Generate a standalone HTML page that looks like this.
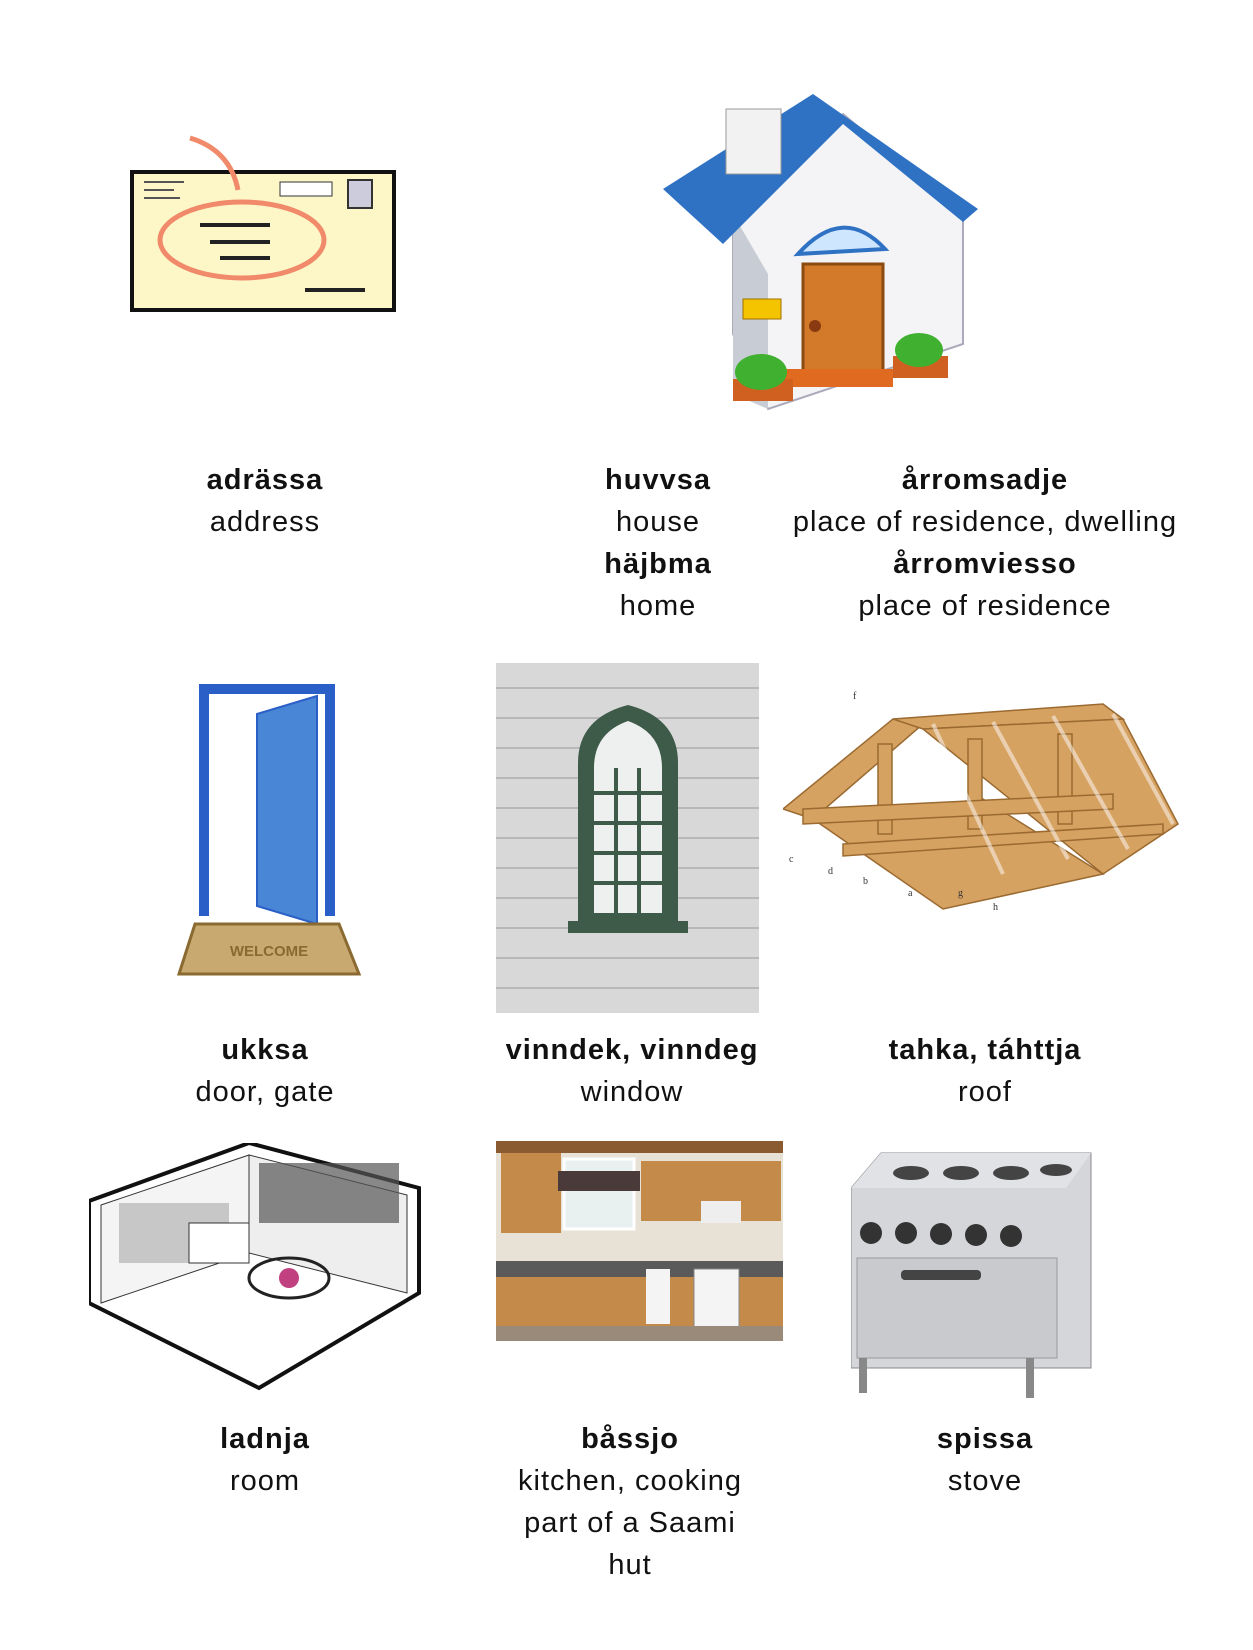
<!DOCTYPE html>
<html><head><meta charset="utf-8"><style>
html,body{margin:0;padding:0;background:#fff}
body{width:1253px;height:1650px;position:relative;overflow:hidden;font-family:"Liberation Sans",sans-serif;color:#111}
.t{position:absolute;transform:translateX(-50%);text-align:center;font-size:29px;letter-spacing:1px;line-height:42px;white-space:nowrap}
.t b{font-weight:bold}
svg{position:absolute}
</style></head><body>

<!-- envelope -->
<svg style="left:120px;top:130px" width="290" height="190" viewBox="0 0 290 190">
<rect x="12" y="42" width="262" height="138" fill="#fdf7c8" stroke="#111" stroke-width="4"/>
<ellipse cx="122" cy="110" rx="82" ry="38" fill="none" stroke="#f08a6a" stroke-width="5"/>
<path d="M70 8 Q110 20 118 60" fill="none" stroke="#f08a6a" stroke-width="5"/>
<rect x="160" y="52" width="52" height="14" fill="#fff" stroke="#333"/>
<rect x="228" y="50" width="24" height="28" fill="#ccd" stroke="#333" stroke-width="2"/>
<path d="M80 95 h70 M90 112 h60 M100 128 h50 M185 160 h60" stroke="#222" stroke-width="4"/>
<path d="M24 52 h40 M24 60 h30 M24 68 h36" stroke="#555" stroke-width="2"/>
</svg>

<!-- house -->
<svg style="left:663px;top:94px" width="345" height="335" viewBox="0 0 345 335">
<polygon points="70,115 180,20 300,120 300,250 105,315 70,240" fill="#f4f4f6" stroke="#aab" stroke-width="2"/>
<polygon points="70,300 105,315 105,180 70,120" fill="#c8ccd4"/>
<polygon points="0,95 150,0 315,115 300,128 180,30 60,150" fill="#2f72c4"/>
<rect x="63" y="15" width="55" height="65" fill="#f2f2f2" stroke="#999"/>
<path d="M135 160 Q180 110 222 155 Z" fill="#cfe6ff" stroke="#2f72c4" stroke-width="4"/>
<rect x="140" y="170" width="80" height="115" fill="#d27a2a" stroke="#8a4a10" stroke-width="3"/>
<circle cx="152" cy="232" r="6" fill="#8a3a10"/>
<rect x="120" y="275" width="110" height="18" fill="#e06a20"/>
<rect x="80" y="205" width="38" height="20" fill="#f5c400" stroke="#a07000"/>
<rect x="70" y="285" width="60" height="22" fill="#d06020"/>
<ellipse cx="98" cy="278" rx="26" ry="18" fill="#40b030"/>
<rect x="230" y="262" width="55" height="22" fill="#d06020"/>
<ellipse cx="256" cy="256" rx="24" ry="17" fill="#40b030"/>
</svg>

<!-- door -->
<svg style="left:177px;top:684px" width="185" height="295" viewBox="0 0 185 295">
<rect x="22" y="0" width="136" height="10" fill="#2a5fc8"/>
<rect x="22" y="0" width="10" height="232" fill="#2a5fc8"/>
<rect x="148" y="0" width="10" height="232" fill="#2a5fc8"/>
<polygon points="80,30 140,12 140,240 80,222" fill="#4a86d6" stroke="#2a5fc8" stroke-width="2"/>
<polygon points="18,240 162,240 182,290 2,290" fill="#c8aa70" stroke="#8a6a30" stroke-width="3"/>
<text x="92" y="272" font-family="Liberation Sans" font-weight="bold" font-size="15" fill="#8a6a30" text-anchor="middle">WELCOME</text>
</svg>

<!-- window photo -->
<svg style="left:496px;top:663px" width="263" height="350" viewBox="0 0 263 350">
<rect width="263" height="350" fill="#d8d8d8"/>
<g stroke="#b8b8b8" stroke-width="2">
<path d="M0 25h263M0 55h263M0 85h263M0 115h263M0 145h263M0 175h263M0 205h263M0 235h263M0 265h263M0 295h263M0 325h263"/></g>
<path d="M82 260 V100 Q82 55 132 42 Q182 55 182 100 V260 Z" fill="#3e5a48"/>
<path d="M98 250 V105 Q98 70 132 58 Q166 70 166 105 V250 Z" fill="#eef0f0"/>
<g stroke="#3e5a48" stroke-width="4"><path d="M98 130h68M98 160h68M98 190h68M98 220h68M120 105v145M143 105v145"/></g>
<rect x="72" y="258" width="120" height="12" fill="#3e5a48"/>
</svg>

<!-- roof -->
<svg style="left:783px;top:684px" width="400" height="270" viewBox="0 0 400 270">
<g fill="#d6a262" stroke="#9a6a30" stroke-width="1.5">
<polygon points="0,125 110,35 140,40 30,135"/>
<polygon points="110,35 320,20 340,35 140,45"/>
<polygon points="30,135 160,225 320,190 200,115"/>
<polygon points="140,45 340,35 395,140 320,190"/>
<rect x="95" y="60" width="14" height="90"/><rect x="185" y="55" width="14" height="90"/><rect x="275" y="50" width="14" height="90"/>
<polygon points="20,125 330,110 330,125 20,140"/>
<polygon points="60,160 380,140 380,150 60,172"/>
</g>
<g stroke="#fff" stroke-width="4" opacity=".5"><path d="M150 40 L220 190 M210 38 L285 175 M270 32 L345 165 M330 30 L390 140"/></g>
<g font-family="Liberation Serif" font-size="10" fill="#333"><text x="70" y="15">f</text><text x="34" y="-2">e</text><text x="6" y="178">c</text><text x="45" y="190">d</text><text x="80" y="200">b</text><text x="125" y="212">a</text><text x="175" y="212">g</text><text x="210" y="226">h</text></g>
</svg>

<!-- room -->
<svg style="left:89px;top:1143px" width="350" height="248" viewBox="0 0 350 248">
<polygon points="0,58 160,0 330,45 330,150 170,245 0,160" fill="#fff" stroke="#111" stroke-width="4"/>
<polygon points="12,62 160,12 160,110 12,160" fill="#f4f4f4" stroke="#333"/>
<polygon points="160,12 318,52 318,150 160,110" fill="#eee" stroke="#333"/>
<rect x="170" y="20" width="140" height="60" fill="#555" opacity=".7"/>
<rect x="30" y="60" width="110" height="60" fill="#999" opacity=".5"/>
<ellipse cx="200" cy="135" rx="40" ry="20" fill="none" stroke="#222" stroke-width="3"/>
<circle cx="200" cy="135" r="10" fill="#c04080"/>
<rect x="100" y="80" width="60" height="40" fill="#fff" stroke="#333"/>
</svg>

<!-- kitchen -->
<svg style="left:496px;top:1141px" width="287" height="200" viewBox="0 0 287 200">
<rect width="287" height="200" fill="#e8e2d6"/>
<rect x="0" y="0" width="287" height="12" fill="#8a5a30"/>
<rect x="5" y="12" width="60" height="80" fill="#c48a4a"/>
<rect x="68" y="18" width="70" height="70" fill="#e8f0f0" stroke="#fff" stroke-width="3"/>
<rect x="62" y="30" width="82" height="20" fill="#4a3a3a"/>
<rect x="145" y="20" width="140" height="60" fill="#c48a4a"/>
<rect x="205" y="60" width="40" height="22" fill="#eee"/>
<rect x="0" y="120" width="287" height="16" fill="#5a5a5a"/>
<rect x="0" y="136" width="287" height="64" fill="#c48a4a"/>
<rect x="150" y="128" width="24" height="55" fill="#f4f4f4"/>
<rect x="198" y="128" width="45" height="60" fill="#f4f4f4" stroke="#888"/>
<rect x="0" y="185" width="287" height="15" fill="#9a8a7a"/>
</svg>

<!-- stove -->
<svg style="left:851px;top:1148px" width="248" height="255" viewBox="0 0 248 255">
<polygon points="0,40 30,5 240,5 240,220 0,220" fill="#d4d6da" stroke="#888"/>
<polygon points="0,40 30,5 240,5 215,40" fill="#e0e2e6"/>
<g fill="#444"><ellipse cx="60" cy="25" rx="18" ry="7"/><ellipse cx="110" cy="25" rx="18" ry="7"/><ellipse cx="160" cy="25" rx="18" ry="7"/><ellipse cx="205" cy="22" rx="16" ry="6"/></g>
<g fill="#333"><circle cx="20" cy="85" r="11"/><circle cx="55" cy="85" r="11"/><circle cx="90" cy="86" r="11"/><circle cx="125" cy="87" r="11"/><circle cx="160" cy="88" r="11"/></g>
<rect x="6" y="110" width="200" height="100" fill="#c8cace" stroke="#999"/>
<rect x="50" y="122" width="80" height="10" rx="4" fill="#444"/>
<rect x="8" y="210" width="8" height="35" fill="#888"/><rect x="175" y="210" width="8" height="40" fill="#888"/>
</svg>

<div class="t" style="left:265px;top:459px"><b>adrässa</b><br>address</div>
<div class="t" style="left:658px;top:459px"><b>huvvsa</b><br>house<br><b>häjbma</b><br>home</div>
<div class="t" style="left:985px;top:459px"><b>årromsadje</b><br>place of residence, dwelling<br><b>årromviesso</b><br>place of residence</div>

<div class="t" style="left:265px;top:1029px"><b>ukksa</b><br>door, gate</div>
<div class="t" style="left:632px;top:1029px"><b>vinndek, vinndeg</b><br>window</div>
<div class="t" style="left:985px;top:1029px"><b>tahka, táhttja</b><br>roof</div>

<div class="t" style="left:265px;top:1418px"><b>ladnja</b><br>room</div>
<div class="t" style="left:630px;top:1418px"><b>båssjo</b><br>kitchen, cooking<br>part of a Saami<br>hut</div>
<div class="t" style="left:985px;top:1418px"><b>spissa</b><br>stove</div>

</body></html>
